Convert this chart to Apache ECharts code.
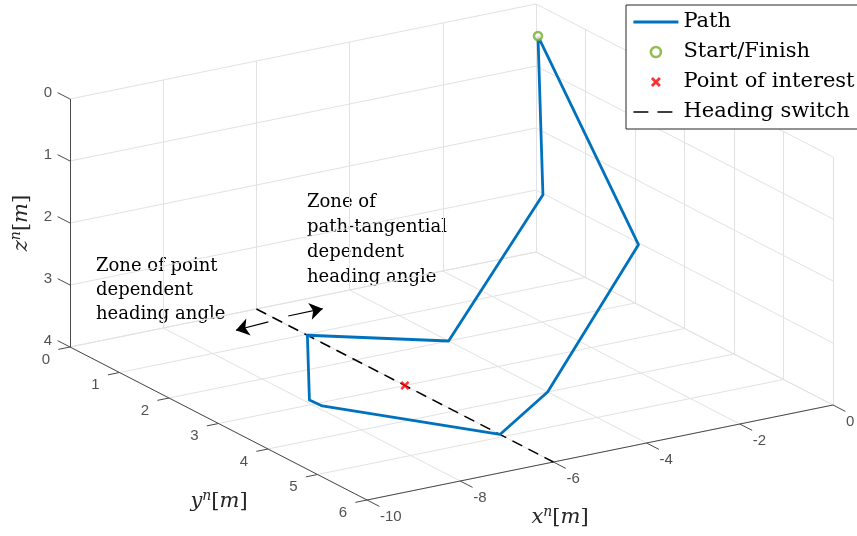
<!DOCTYPE html>
<html><head><meta charset="utf-8">
<script src="https://cdn.jsdelivr.net/npm/echarts@6/dist/echarts.min.js"></script>
<style>html,body{margin:0;padding:0;background:#fff}#c{width:857px;height:536px}</style>
</head><body><div id="c"></div>
<script>
// ---- data ----
const xTicks = [-10, -8, -6, -4, -2, 0];
const yTicks = [0, 1, 2, 3, 4, 5, 6];
const zTicks = [0, 1, 2, 3, 4];
// path vertices (x^n, y^n, z^n)
const pathX = [0, 0, -4, -6, -7.9, -7.88, -6, -4, 0, 0];
const pathY = [0.04, 0.14, 2, 1.03, 2.86, 3.1, 4.92, 4, 2.07, 0.04];
const pathZ = [0.5, 3.02, 4, 4, 4, 4, 4, 4, 3.03, 0.5];
const startPt = [0, 0.04, 0.5];
const poiPt = [-6, 3, 4];
const switchX = [-6, -6];
const switchY = [0, 6];
const switchZ = [4, 4];
// annotation arrows on the floor (x, y, z) start -> end
const arrowLeft = [[-6.2, 0.43, 4], [-6.95, 0.48, 4]];
const arrowRight = [[-5.72, 0.38, 4], [-4.97, 0.37, 4]];

// ---- projection of 3D axes box ----
const O = [70, 347], EX = [46.6, -9.5], EY = [49.5, 25.5], EZ = 62;
function P(x, y, z) {
  return [O[0] + (x + 10) * EX[0] + y * EY[0], O[1] + (x + 10) * EX[1] + y * EY[1] + (z - 4) * EZ];
}
const grid = [];
function seg(a, b, arr) { arr.push({ coords: [P(...a), P(...b)] }); }
xTicks.forEach(x => seg([x, 0, 4], [x, 6, 4], grid));
yTicks.forEach(y => seg([-10, y, 4], [0, y, 4], grid));
xTicks.forEach(x => seg([x, 0, 0], [x, 0, 4], grid));
zTicks.forEach(z => seg([-10, 0, z], [0, 0, z], grid));
yTicks.forEach(y => seg([0, y, 0], [0, y, 4], grid));
zTicks.forEach(z => seg([0, 0, z], [0, 6, z], grid));
const axes = [];
seg([-10, 0, 0], [-10, 0, 4], axes);
seg([-10, 0, 4], [-10, 6, 4], axes);
seg([-10, 6, 4], [0, 6, 4], axes);
zTicks.forEach(z => seg([-10, 0, z], [-10, -0.25, z], axes));
yTicks.forEach(y => seg([-10, y, 4], [-10.25, y, 4], axes));
xTicks.forEach(x => seg([x, 6, 4], [x, 6.25, 4], axes));

const pathData = pathX.map((x, i) => P(x, pathY[i], pathZ[i]));
const switchData = switchX.map((x, i) => P(x, switchY[i], switchZ[i]));
const arrows = [arrowLeft, arrowRight].map(a => ({ coords: [P(...a[0]), P(...a[1])] }));

const tickFont = { fontFamily: 'Liberation Sans, Arial, sans-serif', fontSize: 15, color: '#262626' };
function tickSeries(pts, align, offset) {
  return {
    type: 'scatter', symbolSize: 0, silent: true, z: 5,
    data: pts,
    label: Object.assign({ show: true, position: 'inside', align: align, verticalAlign: 'middle', offset: offset,
      formatter: p => p.value[2] }, tickFont)
  };
}
const serif = 'DejaVu Serif';
const xMark = 'path://M0,2L2,0L5,3L8,0L10,2L7,5L10,8L8,10L5,7L2,10L0,8L3,5Z';

function axisTitle(v) {
  return '{it|' + v + '}{sup|n}{rm|[}{it|m}{rm|]}';
}
const titleRich = {
  it: { fontFamily: serif, fontStyle: 'italic', fontSize: 21, lineHeight: 26, fill: '#262626' },
  rm: { fontFamily: serif, fontSize: 21, lineHeight: 26, fill: '#262626' },
  sup: { fontFamily: serif, fontStyle: 'italic', fontSize: 14, lineHeight: 14, verticalAlign: 'top', fill: '#262626' }
};

const chart = echarts.init(document.getElementById('c'));
chart.setOption({
  animation: false,
  backgroundColor: '#fff',
  grid: { left: 0, right: 0, top: 0, bottom: 0 },
  xAxis: { type: 'value', min: 0, max: 857, show: false },
  yAxis: { type: 'value', min: 0, max: 536, inverse: true, show: false },
  legend: {
    left: 626, top: 5, orient: 'vertical', selectedMode: false,
    itemWidth: 45, itemHeight: 10, itemGap: 6,
    padding: [5, 6, 5, 6],
    borderColor: '#262626', borderWidth: 1, backgroundColor: '#fff',
    textStyle: { fontFamily: serif, fontSize: 21, color: '#000', lineHeight: 24 },
    data: [
      { name: 'Path', itemStyle: { opacity: 0 }, lineStyle: { width: 2.8 } },
      { name: 'Start/Finish', itemStyle: { color: '#fff', borderColor: '#77AC30', borderWidth: 2.6 } },
      { name: 'Point of interest' },
      { name: 'Heading switch', itemStyle: { opacity: 0 }, lineStyle: { type: [15, 9], width: 1.5 } }
    ]
  },
  graphic: [
    { type: 'text', left: 96, top: 254, silent: true,
      style: { text: 'Zone of point\ndependent\nheading angle', font: '18px "DejaVu Serif"', lineHeight: 24, fill: '#000' } },
    { type: 'text', left: 307, top: 190, silent: true,
      style: { text: 'Zone of\npath-tangential\ndependent\nheading angle', font: '18px "DejaVu Serif"', lineHeight: 25, fill: '#000' } },
    { type: 'text', x: 219, y: 502, silent: true,
      style: { text: axisTitle('y'), rich: titleRich, align: 'center', verticalAlign: 'middle' } },
    { type: 'text', x: 560, y: 518, silent: true,
      style: { text: axisTitle('x'), rich: titleRich, align: 'center', verticalAlign: 'middle' } },
    { type: 'text', x: 22, y: 223, rotation: Math.PI / 2, silent: true,
      style: { text: axisTitle('z'), rich: titleRich, align: 'center', verticalAlign: 'middle' } }
  ],
  series: [
    { type: 'lines', coordinateSystem: 'cartesian2d', silent: true, z: 1, data: grid,
      lineStyle: { color: '#e2e2e2', width: 1, opacity: 1 } },
    { type: 'lines', coordinateSystem: 'cartesian2d', silent: true, z: 2, data: axes,
      lineStyle: { color: '#4a4a4a', width: 1, opacity: 1 } },
    tickSeries(zTicks.map(z => P(-10, 0, z).concat([String(z)])), 'right', [-18, -6]),
    tickSeries(yTicks.map(y => P(-10, y, 4).concat([String(y)])), 'right', [-20, 12.5]),
    tickSeries(xTicks.map(x => P(x, 6, 4).concat([String(x)])), 'left', [13, 17]),
    { name: 'Heading switch', type: 'line', data: switchData, symbol: 'none', silent: true, z: 3,
      lineStyle: { color: '#000', width: 1.5, type: [11, 7] }, itemStyle: { color: '#000' } },
    { name: 'Path', type: 'line', data: pathData, symbol: 'none', silent: true, z: 4,
      lineStyle: { color: '#0072BD', width: 2.8, join: 'round' }, itemStyle: { color: '#0072BD' } },
    { name: 'Start/Finish', type: 'scatter', data: [P(...startPt)], symbol: 'circle', symbolSize: 8, silent: true, z: 6,
      itemStyle: { color: '#fff', borderColor: '#77AC30', borderWidth: 2.6 } },
    { name: 'Point of interest', type: 'scatter', data: [P(...poiPt)], symbol: xMark, symbolSize: 9, symbolKeepAspect: true, silent: true, z: 6,
      itemStyle: { color: '#FF0000' } },
    { type: 'lines', coordinateSystem: 'cartesian2d', silent: true, z: 5, data: arrows,
      symbol: ['none', 'arrow'], symbolSize: 13,
      lineStyle: { color: '#000', width: 1.2, opacity: 1 } }
  ]
});
</script>
</body></html>
